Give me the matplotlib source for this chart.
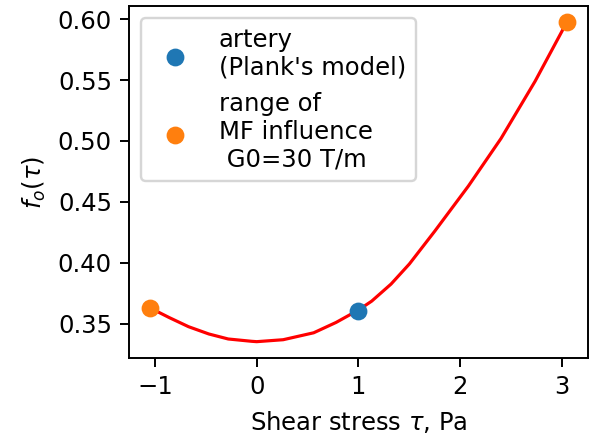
import matplotlib
matplotlib.use("Agg")
import matplotlib.pyplot as plt

# curve
curve_x = [-1.05, -0.86, -0.67, -0.47, -0.28, -0.05, 0.0, 0.26, 0.56, 0.78, 1.0,
           1.13, 1.32, 1.50, 1.75, 2.08, 2.40, 2.735, 3.05]
curve_y = [0.363, 0.355, 0.3475, 0.3415, 0.3374, 0.3355, 0.3352, 0.3368, 0.3425, 0.351, 0.3612,
           0.3685, 0.3825, 0.399, 0.426, 0.463, 0.502, 0.549, 0.598]

# markers
artery_x = [1.0]
artery_y = [0.360]
mf_x = [-1.05, 3.05]
mf_y = [0.363, 0.598]

DPI = 175
fig = plt.figure(figsize=(590 / DPI, 440 / DPI), dpi=DPI)
ax = fig.add_axes([0.2186, 0.1864, 0.778, 0.7996])

ax.plot(curve_x, curve_y, color="red", linewidth=1.3)
ax.scatter(artery_x, artery_y, s=40, color="#1f77b4", label="artery\n(Plank's model)", zorder=3)
ax.scatter(mf_x, mf_y, s=40, color="#ff7f0e", label="range of\nMF influence\n G0=30 T/m", zorder=3)

ax.set_xlim(-1.255, 3.255)
ax.set_ylim(0.3218, 0.6107)
ax.set_xticks([-1, 0, 1, 2, 3])
ax.set_yticks([0.35, 0.40, 0.45, 0.50, 0.55, 0.60])
ax.set_xlabel(r"Shear stress $\tau$, Pa")
ax.set_ylabel(r"$f_o(\tau)$")
ax.legend(loc="upper left")

fig.savefig("out.png", dpi=DPI)
